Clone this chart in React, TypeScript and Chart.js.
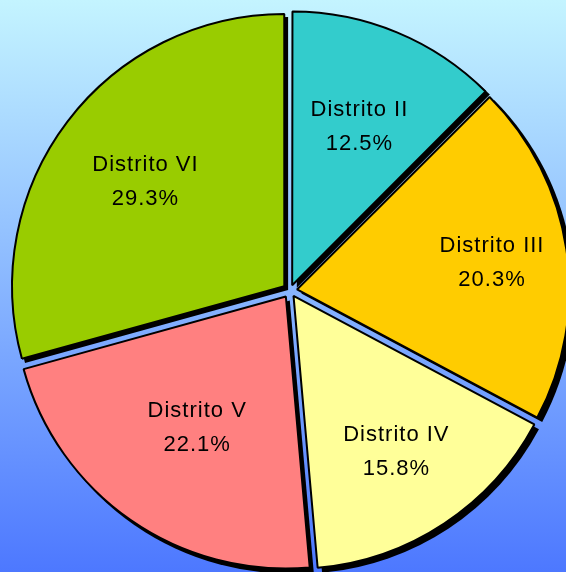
import React, { useEffect, useRef } from "react";
import { Chart, registerables } from "chart.js";

Chart.register(...registerables);

const categories = ["Distrito II", "Distrito III", "Distrito IV", "Distrito V", "Distrito VI"];
const values = [12.5, 20.3, 15.8, 22.1, 29.3];
const colors = ["#33CCCC", "#FFCC00", "#FFFF99", "#FF8080", "#99CC00"];
const labelRadiusFractions = [0.63, 0.72, 0.675, 0.578, 0.645];

const EXPLODE = 7.4;
const SHADOW_X = 4;
const SHADOW_Y = 4;

function arcTranslate(arc: any) {
  const circ = arc.endAngle - arc.startAngle;
  const off = (arc.options.offset || 0) / 4;
  const fix = 1 - Math.sin(Math.min(Math.PI, circ || 0));
  return off * (1 + fix);
}

const shadowPlugin = {
  id: "sliceShadow",
  beforeDatasetsDraw(chart: any) {
    const ctx = chart.ctx;
    const meta = chart.getDatasetMeta(0);
    ctx.save();
    ctx.fillStyle = "#000000";
    meta.data.forEach((arc: any) => {
      const p = arc.getProps(["x", "y", "startAngle", "endAngle", "outerRadius"], true);
      const mid = (p.startAngle + p.endAngle) / 2;
      const t = arcTranslate({ ...p, options: arc.options });
      const cx = p.x + Math.cos(mid) * t + SHADOW_X;
      const cy = p.y + Math.sin(mid) * t + SHADOW_Y;
      ctx.beginPath();
      ctx.moveTo(cx, cy);
      ctx.arc(cx, cy, p.outerRadius + 1, p.startAngle, p.endAngle);
      ctx.closePath();
      ctx.fill();
    });
    ctx.restore();
  },
};

const labelPlugin = {
  id: "sliceLabels",
  afterDatasetsDraw(chart: any) {
    const ctx = chart.ctx;
    const meta = chart.getDatasetMeta(0);
    const total = values.reduce((a, b) => a + b, 0);
    ctx.save();
    ctx.fillStyle = "#000000";
    ctx.font = "22px 'Liberation Sans', Arial, sans-serif";
    (ctx as any).letterSpacing = "1px";
    ctx.textAlign = "center";
    ctx.textBaseline = "middle";
    meta.data.forEach((arc: any, i: number) => {
      const p = arc.getProps(["x", "y", "startAngle", "endAngle", "outerRadius"], true);
      const mid = (p.startAngle + p.endAngle) / 2;
      const t = arcTranslate({ ...p, options: arc.options });
      const r = p.outerRadius * labelRadiusFractions[i];
      const x = p.x + Math.cos(mid) * (t + r);
      const y = p.y + Math.sin(mid) * (t + r) + 2;
      const pct = ((values[i] / total) * 100).toFixed(1) + "%";
      ctx.fillText(categories[i], x + 1, y - 17);
      ctx.fillText(pct, x + 1, y + 17);
    });
    ctx.restore();
  },
};

export default function App() {
  const canvasRef = useRef<HTMLCanvasElement | null>(null);

  useEffect(() => {
    document.body.style.margin = "0";
    const canvas = canvasRef.current;
    if (!canvas) return;
    const total = values.reduce((a, b) => a + b, 0);
    const chart = new Chart(canvas, {
      type: "pie",
      data: {
        labels: categories,
        datasets: [
          {
            data: values,
            backgroundColor: colors,
            borderColor: "#000000",
            borderWidth: 2,
            clip: false as any,
            offset: ((c: any) => {
              const v = values[c.dataIndex] ?? 0;
              const circ = (v / total) * Math.PI * 2;
              const fix = 1 - Math.sin(Math.min(Math.PI, circ));
              return (4 * EXPLODE) / (1 + fix);
            }) as any,
          },
        ],
      },
      options: {
        animation: false,
        responsive: false,
        maintainAspectRatio: false,
        radius: 272,
        layout: { padding: { left: 14, right: 0, top: 9, bottom: 0 } },
        plugins: {
          legend: { display: false },
          tooltip: { enabled: false },
        },
      } as any,
      plugins: [shadowPlugin, labelPlugin],
    });
    return () => chart.destroy();
  }, []);

  return (
    <div
      style={{
        width: 566,
        height: 572,
        background: "linear-gradient(to bottom, rgb(196,244,255), rgb(77,120,255))",
        overflow: "hidden",
      }}
    >
      <canvas ref={canvasRef} width={566} height={572} style={{ display: "block" }} />
    </div>
  );
}
